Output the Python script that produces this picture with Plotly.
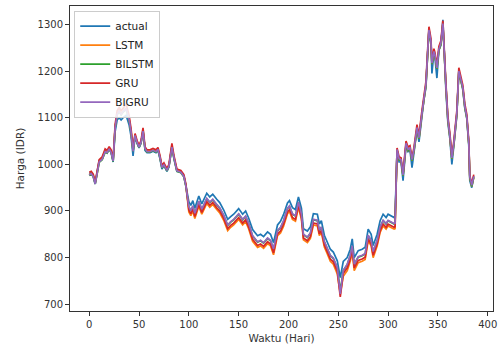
import plotly.graph_objects as go

days = [0, 2, 4, 6, 8, 10, 13, 16, 18, 20, 22, 24,
        26, 28, 30, 32, 34, 37, 40, 42, 44,
        46, 48, 50, 52, 54, 56, 58, 61, 64, 67, 69, 71, 73, 75, 78, 80, 83, 85, 88, 92, 95, 97,
        100, 102, 104, 106, 110, 113, 118, 121, 124, 128, 131, 135, 139, 142, 145, 150, 154, 157, 160,
        164, 169, 172, 175, 179, 182, 185, 189, 192, 195, 199, 201, 204, 207, 210, 213, 215, 219, 222,
        225, 229, 231, 233, 236, 239, 242, 245, 249, 252, 255, 259, 262, 264, 266, 270, 274, 277, 280,
        283, 285, 289, 292, 295, 298, 300, 304, 306, 307,
        309, 311, 313, 315, 318, 320, 322, 324, 326, 329, 331, 334, 336, 338, 340, 341, 343, 344, 346,
        347, 349, 351, 353, 355, 358, 360, 362, 364, 366, 368, 369, 371, 373, 375, 377, 379, 381, 382,
        384, 386]

actual = [980, 983, 975, 958, 985, 1008, 1012, 1030, 1025, 1035, 1025, 1005,
          1070, 1095, 1100, 1095, 1100, 1105, 1085, 1060, 1018,
          1060, 1045, 1035, 1045, 1075, 1030, 1025, 1025, 1028, 1025, 1030, 1012, 990, 998, 985, 995, 1040, 1012, 985, 983, 975, 955,
          920, 912, 922, 906, 932, 915, 938, 930, 936, 925, 918, 902, 882, 888, 893, 905, 893, 900, 885,
          860, 847, 850, 845, 855, 850, 832, 870, 878, 892, 917, 922, 907, 903, 930, 906, 862, 857, 866,
          894, 893, 872, 879, 848, 833, 818, 812, 793, 757, 792, 800, 818, 840, 800, 815, 818, 822, 861,
          850, 826, 850, 879, 893, 886, 893, 889, 886, 890,
          1030, 1005, 1005, 965, 1040, 1027, 1030, 993, 1027, 1075, 1048, 1105, 1140, 1165, 1250, 1290, 1260, 1195, 1240,
          1230, 1185, 1245, 1255, 1310, 1160, 1090, 1055, 1000, 1040, 1085, 1105, 1200, 1180, 1160, 1120, 1098, 1040, 965,
          950, 975]

lstm = [978, 981, 976, 960, 982, 1006, 1012, 1028, 1026, 1034, 1027, 1008,
        1080, 1108, 1115, 1108, 1114, 1120, 1098, 1070, 1030,
        1063, 1048, 1038, 1048, 1072, 1035, 1028, 1028, 1031, 1028, 1033, 1016, 994, 1000, 988, 997, 1038, 1016, 987, 984, 975, 955,
        898, 890, 900, 884, 910, 893, 916, 908, 914, 903, 896, 880, 858, 865, 870, 882, 870, 877, 862,
        835, 822, 825, 820, 830, 825, 806, 847, 853, 867, 894, 899, 882, 878, 908, 882, 838, 832, 841,
        870, 868, 847, 854, 823, 808, 792, 786, 765, 722, 760, 772, 792, 813, 772, 789, 792, 796, 836,
        825, 800, 825, 854, 868, 861, 868, 864, 861, 862,
        1030, 1010, 1008, 975, 1042, 1030, 1033, 1008, 1030, 1076, 1055, 1108, 1143, 1170, 1248, 1285, 1262, 1215, 1240,
        1233, 1205, 1245, 1258, 1300, 1168, 1096, 1060, 1012, 1043, 1088, 1108, 1198, 1183, 1163, 1123, 1100, 1045, 972,
        953, 972]

bilstm = [976, 979, 974, 958, 980, 1004, 1010, 1026, 1024, 1032, 1025, 1006,
          1078, 1106, 1113, 1106, 1112, 1118, 1096, 1068, 1028,
          1061, 1046, 1036, 1046, 1070, 1033, 1026, 1026, 1029, 1026, 1031, 1014, 992, 998, 986, 995, 1036, 1014, 985, 982, 973, 953,
          908, 900, 910, 894, 920, 903, 926, 918, 924, 913, 906, 890, 869, 876, 881, 893, 881, 888, 873,
          846, 833, 836, 831, 841, 836, 818, 857, 864, 878, 905, 910, 893, 889, 918, 893, 849, 843, 852,
          881, 879, 858, 865, 834, 819, 804, 798, 778, 728, 772, 785, 804, 824, 785, 801, 804, 808, 847,
          836, 812, 836, 865, 879, 872, 879, 875, 872, 873,
          1030, 1010, 1008, 975, 1042, 1030, 1033, 1008, 1030, 1076, 1055, 1108, 1143, 1170, 1248, 1285, 1262, 1215, 1240,
          1233, 1205, 1245, 1258, 1300, 1168, 1096, 1060, 1012, 1043, 1088, 1108, 1198, 1183, 1163, 1123, 1100, 1045, 972,
          953, 972]

gru = [983, 985, 979, 962, 986, 1010, 1016, 1033, 1030, 1038, 1031, 1012,
       1085, 1115, 1122, 1115, 1120, 1130, 1105, 1076, 1035,
       1066, 1051, 1041, 1051, 1078, 1038, 1031, 1031, 1034, 1031, 1036, 1019, 997, 1003, 991, 1000, 1045, 1019, 990, 987, 978, 958,
       902, 894, 904, 888, 914, 897, 920, 912, 918, 907, 900, 884, 862, 869, 874, 886, 874, 881, 866,
       839, 826, 829, 824, 834, 829, 810, 851, 857, 871, 898, 903, 886, 882, 912, 886, 842, 836, 845,
       874, 872, 851, 858, 827, 812, 797, 791, 771, 716, 766, 778, 797, 818, 778, 794, 797, 801, 840,
       829, 805, 829, 858, 872, 865, 872, 868, 865, 866,
       1035, 1016, 1014, 980, 1050, 1037, 1040, 1014, 1037, 1085, 1062, 1116, 1150, 1178, 1258, 1295, 1270, 1222, 1248,
       1240, 1212, 1253, 1265, 1308, 1175, 1103, 1067, 1018, 1050, 1095, 1115, 1207, 1190, 1170, 1130, 1107, 1050, 976,
       958, 978]

bigru = [977, 980, 974, 958, 981, 1005, 1011, 1027, 1025, 1033, 1026, 1007,
         1078, 1107, 1114, 1107, 1113, 1120, 1097, 1069, 1028,
         1062, 1047, 1037, 1047, 1071, 1034, 1027, 1027, 1030, 1027, 1032, 1015, 993, 999, 987, 996, 1037, 1015, 986, 983, 974, 954,
         909, 901, 911, 895, 921, 904, 927, 919, 925, 914, 907, 891, 870, 877, 882, 894, 882, 889, 874,
         847, 834, 837, 832, 842, 837, 819, 858, 865, 879, 906, 911, 894, 890, 919, 894, 850, 844, 853,
         882, 880, 859, 866, 835, 820, 805, 799, 779, 722, 773, 786, 805, 825, 786, 802, 805, 809, 848,
         837, 813, 837, 866, 880, 873, 880, 876, 873, 874,
         1032, 1012, 1010, 977, 1045, 1032, 1035, 1010, 1032, 1079, 1057, 1110, 1145, 1172, 1252, 1288, 1264, 1217, 1242,
         1235, 1207, 1247, 1260, 1302, 1170, 1098, 1062, 1014, 1045, 1090, 1110, 1200, 1185, 1165, 1125, 1102, 1047, 974,
         955, 974]

x_ticks = [0, 50, 100, 150, 200, 250, 300, 350, 400]
y_ticks = [700, 800, 900, 1000, 1100, 1200, 1300]

series = [("actual", actual, "#1f77b4"),
          ("LSTM", lstm, "#ff7f0e"),
          ("BILSTM", bilstm, "#2ca02c"),
          ("GRU", gru, "#d62728"),
          ("BIGRU", bigru, "#9467bd")]

fig = go.Figure()
for name, vals, col in series:
    fig.add_trace(go.Scatter(x=days, y=vals, mode="lines", name=name,
                             line=dict(color=col, width=1.7)))

axis_common = dict(showgrid=False, zeroline=False, showline=True, linecolor="#333",
                   linewidth=1, mirror=True, ticks="outside", ticklen=4, tickwidth=1,
                   tickcolor="#333", tickfont=dict(family="DejaVu Sans", size=10, color="#333"))

fig.update_layout(
    width=502, height=348,
    margin=dict(l=70, r=7, t=5, b=37),
    paper_bgcolor="white", plot_bgcolor="white",
    font=dict(family="DejaVu Sans", size=10, color="#333"),
    xaxis=dict(range=[-19.3, 405.3], tickvals=x_ticks,
               title=dict(text="Waktu (Hari)", standoff=5, font=dict(size=10.5)), **axis_common),
    yaxis=dict(range=[685.5, 1339.5], tickvals=y_ticks,
               title=dict(text="Harga (IDR)", standoff=10, font=dict(size=10.5)), **axis_common),
    legend=dict(x=0.01, y=0.985, xanchor="left", yanchor="top",
                bgcolor="rgba(255,255,255,0.85)", bordercolor="#ccc", borderwidth=1,
                font=dict(family="DejaVu Sans", size=10.5, color="#222"),
                itemwidth=30, tracegroupgap=0),
    showlegend=True,
)

fig.write_html("out.html")
